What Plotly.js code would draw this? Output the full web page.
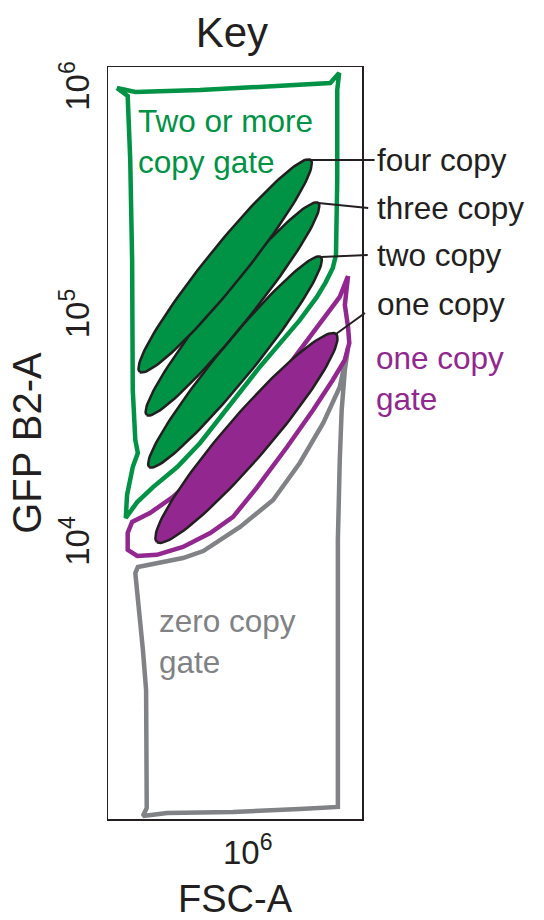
<!DOCTYPE html>
<html>
<head>
<meta charset="utf-8">
<script src="https://cdn.plot.ly/plotly-3.0.1.min.js"></script>
<style>html,body{margin:0;padding:0;background:#fff;}#chart{width:544px;height:920px;}</style>
</head>
<body>
<div id="chart"></div>
<script>
// ---- data (log10 of FSC-A and GFP B2-A) ----
const greenGateLogFSC = [5.794,5.823,5.925,6.035,6.130,6.144,6.141,6.141,6.139,6.134,6.123,6.109,6.082,6.019,5.967,5.925,5.889,5.851,5.826,5.808,5.810,5.819,5.827,5.823,5.819,5.818,5.815,5.811];
const greenGateLogGFP = [6.013,5.996,6.004,6.018,6.035,6.079,6.004,5.609,5.279,5.222,5.160,5.095,4.993,4.787,4.598,4.453,4.347,4.259,4.193,4.123,4.224,4.347,4.409,4.466,4.686,5.257,5.697,5.978];

const purpleGateLogFSC = [6.158,6.155,6.153,6.158,6.160,6.153,6.134,6.103,6.062,6.015,5.977,5.941,5.898,5.857,5.826,5.811,5.811,5.818,5.846,5.882,5.941,6.004,6.067,6.114,6.145];
const purpleGateLogGFP = [5.187,5.112,5.059,4.963,4.892,4.818,4.730,4.598,4.435,4.259,4.128,4.057,3.996,3.961,3.956,3.983,4.057,4.106,4.145,4.215,4.365,4.585,4.804,4.980,5.095];

const grayGateLogFSC = [6.158,6.153,6.148,6.145,6.142,6.142,6.082,5.977,5.873,5.835,5.841,5.841,5.840,5.835,5.830,5.826,5.823,5.827,5.862,5.898,5.930,5.988,6.040,6.082,6.119,6.145];
const grayGateLogGFP = [4.871,4.774,4.598,4.378,4.026,2.853,2.844,2.831,2.826,2.813,2.848,3.147,3.367,3.543,3.688,3.807,3.881,3.908,3.925,3.947,3.978,4.084,4.202,4.365,4.541,4.699];

const populations = ['four copy','three copy','two copy','one copy'];
const popTipLogFSC  = [6.099, 6.111, 6.115, 6.139];
const popTipLogGFP  = [5.697, 5.508, 5.270, 4.932];
const popBaseLogFSC = [5.830, 5.841, 5.845, 5.857];
const popBaseLogGFP = [4.765, 4.576, 4.347, 4.018];

const gateNames = ['Two or more<br>copy gate', 'one copy<br>gate', 'zero copy<br>gate'];

const xTickVals = [1e6];
const xTickText = ['10<sup>6</sup>'];
const yTickVals = [1e4, 1e5, 1e6];
const yTickText = ['10<sup>4</sup>', '10<sup>5</sup>', '10<sup>6</sup>'];

// ---- styles ----
const GREEN = '#009245', PURPLE = '#92278F', GRAY = '#808285', INK = '#231F20';
const FONT = 'Liberation Sans, Arial, Helvetica, sans-serif';
const W = 544, H = 920, M = {l:108, r:182, t:67, b:101};
const XR = [5.78, 6.18], YR = [2.80, 6.1055];
const popFill = [GREEN, GREEN, GREEN, PURPLE];
const popHalfWidthPx = [19, 18, 18, 22];
const leaderOffsets = [[64,0],[50,5],[47,-2],[29,-21]];
const labelFontSize = 31.5;

const plotW = W - M.l - M.r, plotH = H - M.t - M.b;
const pxPerX = plotW / (XR[1] - XR[0]);
const pxPerY = plotH / (YR[1] - YR[0]);
const pow10 = v => Math.pow(10, v);
const toPaperX = lx => (lx - XR[0]) / (XR[1] - XR[0]);
const toPaperY = ly => (ly - YR[0]) / (YR[1] - YR[0]);
const paperX = px => (px - M.l) / plotW;
const paperY = py => (H - M.b - py) / plotH;

function ellipse(x0, y0, x1, y1, b) {
  const X0 = x0*pxPerX, Y0 = -y0*pxPerY, X1 = x1*pxPerX, Y1 = -y1*pxPerY;
  const cx = (X0+X1)/2, cy = (Y0+Y1)/2;
  const dx = X1-X0, dy = Y1-Y0, len = Math.hypot(dx, dy);
  const ux = dx/len, uy = dy/len, nx = -uy, ny = ux, a = len/2;
  const xs = [], ys = [];
  for (let i = 0; i <= 120; i++) {
    const t = 2*Math.PI*i/120;
    const px = cx + a*Math.cos(t)*ux + b*Math.sin(t)*nx;
    const py = cy + a*Math.cos(t)*uy + b*Math.sin(t)*ny;
    xs.push(pow10(px/pxPerX)); ys.push(pow10(-py/pxPerY));
  }
  return {xs, ys};
}

function gate(lx, ly, color) {
  return {
    type:'scatter', mode:'lines',
    x: lx.concat([lx[0]]).map(pow10), y: ly.concat([ly[0]]).map(pow10),
    line:{color:color, width:4.5}, hoverinfo:'skip', showlegend:false
  };
}

const traces = [
  gate(grayGateLogFSC, grayGateLogGFP, GRAY),
  gate(purpleGateLogFSC, purpleGateLogGFP, PURPLE),
  gate(greenGateLogFSC, greenGateLogGFP, GREEN)
];
for (let i = populations.length - 1; i >= 0; i--) {
  const e = ellipse(popTipLogFSC[i], popTipLogGFP[i], popBaseLogFSC[i], popBaseLogGFP[i], popHalfWidthPx[i]);
  traces.push({
    type:'scatter', mode:'lines', x:e.xs, y:e.ys, fill:'toself',
    fillcolor: popFill[i], line:{color:INK, width:2.5}, name: populations[i],
    hoverinfo:'skip', showlegend:false
  });
}

const annotations = [];
const shapes = [];
const labelFont = c => ({family:FONT, size:labelFontSize, color:c});
const labelY = [160, 208, 255, 304];
populations.forEach((p, i) => {
  const x0 = toPaperX(popTipLogFSC[i]), y0 = toPaperY(popTipLogGFP[i]);
  shapes.push({
    type:'line', xref:'paper', yref:'paper', layer:'above',
    x0:x0, y0:y0, x1:x0 + leaderOffsets[i][0]/plotW, y1:y0 - leaderOffsets[i][1]/plotH,
    line:{color:INK, width:2}
  });
  annotations.push({
    xref:'paper', yref:'paper', x: paperX(375), y: paperY(labelY[i]),
    xanchor:'left', yanchor:'middle', text:p, showarrow:false, font:labelFont(INK)
  });
});
annotations.push({xref:'paper', yref:'paper', x:paperX(136), y:paperY(141), xanchor:'left', yanchor:'middle', align:'left', text:gateNames[0], showarrow:false, font:labelFont(GREEN)});
annotations.push({xref:'paper', yref:'paper', x:paperX(374), y:paperY(378), xanchor:'left', yanchor:'middle', align:'left', text:gateNames[1], showarrow:false, font:labelFont(PURPLE)});
annotations.push({xref:'paper', yref:'paper', x:paperX(157), y:paperY(641), xanchor:'left', yanchor:'middle', align:'left', text:gateNames[2], showarrow:false, font:labelFont(GRAY)});

const axisBase = {
  showline:true, mirror:true, linecolor:INK, linewidth:1.5,
  showgrid:false, zeroline:false, ticks:'', type:'log',
  tickfont:{family:FONT, size:33, color:INK}
};

const layout = {
  width:W, height:H, margin:M, paper_bgcolor:'#fff', plot_bgcolor:'#fff',
  showlegend:false, hovermode:false,
  title:{text:'Key', font:{family:FONT, size:42, color:INK}, xref:'paper', x:0.488, xanchor:'center', yref:'container', y:1-32/H, yanchor:'middle'},
  xaxis:Object.assign({}, axisBase, {range:XR, tickvals:xTickVals, ticktext:xTickText, ticklabelstandoff:4,
    title:{text:'FSC-A', font:{family:FONT, size:38, color:INK}, standoff:29}}),
  yaxis:Object.assign({}, axisBase, {range:YR, tickvals:yTickVals, ticktext:yTickText, tickangle:-90, ticklabelstandoff:4,
    title:{text:'GFP B2-A', font:{family:FONT, size:40, color:INK}, standoff:0}}),
  shapes:shapes,
  annotations:annotations
};

Plotly.newPlot('chart', traces, layout, {staticPlot:true, displayModeBar:false});
</script>
</body>
</html>
